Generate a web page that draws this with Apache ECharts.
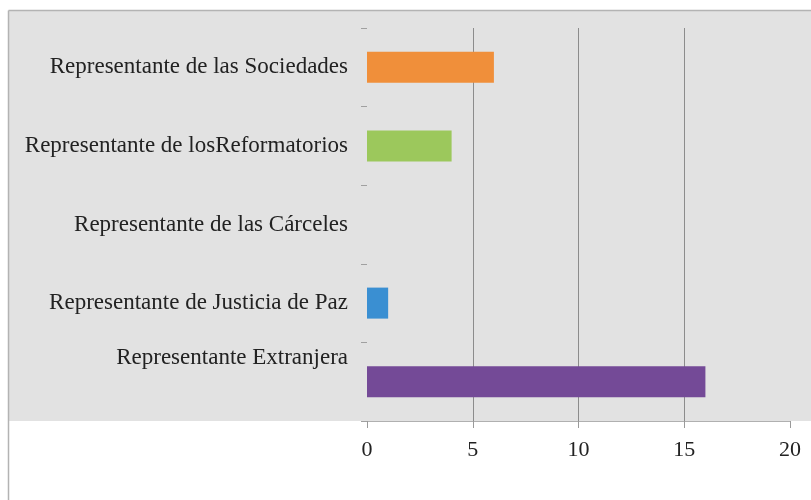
<!DOCTYPE html>
<html>
<head>
<meta charset="utf-8">
<script src="https://cdn.jsdelivr.net/npm/echarts@6/dist/echarts.min.js"></script>
<style>html,body{margin:0;padding:0;background:#fff}#c{width:811px;height:500px}</style>
</head>
<body>
<div id="c"></div>
<script>
var categories = [
  'Representante Extranjera',
  'Representante de Justicia de Paz',
  'Representante de las Cárceles',
  'Representante de losReformatorios',
  'Representante de las Sociedades'
];
var values = [16, 1, 0, 4, 6];
var barColors = ['#744a97', '#3a8fd2', '#9cc85c', '#9cc85c', '#f08f3a'];
var xTicks = [0, 5, 10, 15, 20];

var chart = echarts.init(document.getElementById('c'));
var fontFam = '"Liberation Serif", "Times New Roman", serif';
chart.setOption({
  animation: false,
  graphic: [
    { type: 'rect', z: -10, shape: { x: 9, y: 11, width: 802, height: 410 }, style: { fill: '#e2e2e2' } },
    { type: 'line', z: -5, shape: { x1: 8.5, y1: 10.5, x2: 811, y2: 10.5 }, style: { stroke: '#b3b3b3', lineWidth: 1.5 } },
    { type: 'line', z: -5, shape: { x1: 8.5, y1: 10.5, x2: 8.5, y2: 500 }, style: { stroke: '#b3b3b3', lineWidth: 1.5 } }
  ],
  grid: { left: 367, right: 21, top: 28, bottom: 79, containLabel: false },
  xAxis: {
    type: 'value',
    min: 0, max: 20, interval: 5,
    axisLine: { show: true, lineStyle: { color: '#b0b0b0', width: 1 } },
    axisTick: { show: true, length: 7, lineStyle: { color: '#9a9a9a' } },
    splitLine: { show: true, lineStyle: { color: ['rgba(0,0,0,0)', '#8c8c8c', '#8c8c8c', '#8c8c8c', 'rgba(0,0,0,0)'], width: 1 } },
    axisLabel: {
      margin: 18, fontFamily: fontFam, fontSize: 22, color: '#222',
      formatter: function (v) { return xTicks.indexOf(v) >= 0 ? String(v) : ''; }
    }
  },
  yAxis: {
    type: 'category',
    data: categories,
    axisLine: { show: false },
    axisTick: { show: true, length: 6, lineStyle: { color: '#a0a0a0' } },
    splitLine: { show: false },
    axisLabel: {
      margin: 19, fontFamily: fontFam, fontSize: 23, color: '#222',
      formatter: function (v, i) { return i === 0 ? '{up|' + v + '}' : '{n|' + v + '}'; },
      rich: {
        up: { fontFamily: fontFam, fontSize: 23, color: '#222', padding: [0, 0, 48, 0] },
        n: { fontFamily: fontFam, fontSize: 23, color: '#222' }
      }
    }
  },
  series: [{
    type: 'bar',
    barWidth: 31,
    data: values.map(function (v, i) { return { value: v, itemStyle: { color: barColors[i] } }; })
  }]
});
</script>
</body>
</html>
